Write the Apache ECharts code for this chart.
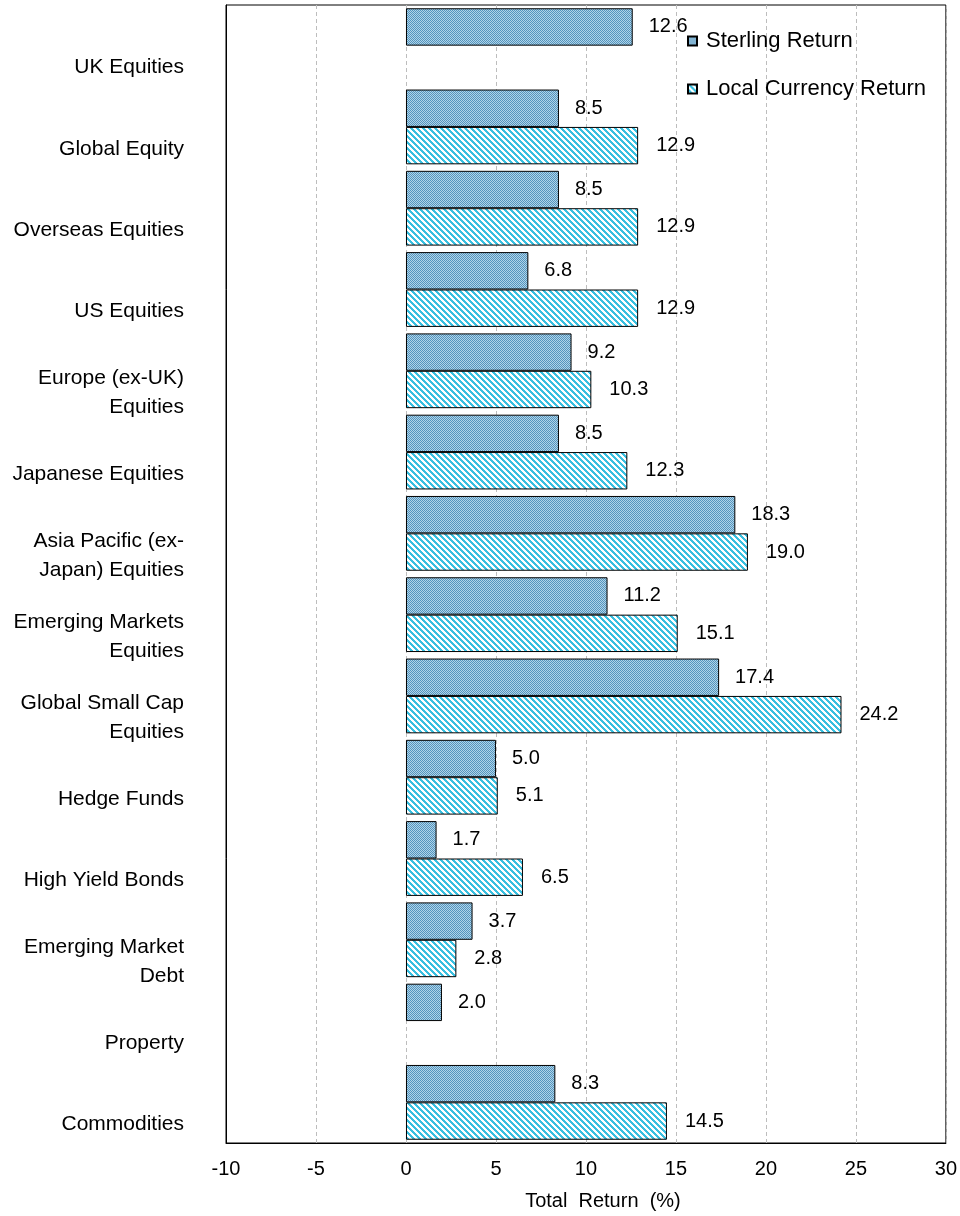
<!DOCTYPE html>
<html>
<head>
<meta charset="utf-8">
<style>
  html, body { margin: 0; padding: 0; background: #fff; }
  #chart { width: 960px; height: 1216px; }
</style>
<script src="https://cdn.jsdelivr.net/npm/echarts@6/dist/echarts.min.js"></script>
</head>
<body>
<div id="chart"></div>
<script>
// Asset classes, top to bottom
const categories = [
  'UK Equities',
  'Global Equity',
  'Overseas Equities',
  'US Equities',
  'Europe (ex-UK)\nEquities',
  'Japanese Equities',
  'Asia Pacific (ex-\nJapan) Equities',
  'Emerging Markets\nEquities',
  'Global Small Cap\nEquities',
  'Hedge Funds',
  'High Yield Bonds',
  'Emerging Market\nDebt',
  'Property',
  'Commodities'
];

// Total return (%) in sterling terms
const sterlingReturn = [12.6, 8.5, 8.5, 6.8, 9.2, 8.5, 18.3, 11.2, 17.4, 5.0, 1.7, 3.7, 2.0, 8.3];
// Total return (%) in local currency terms (none for UK equities and property)
const localReturn = [null, 12.9, 12.9, 12.9, 10.3, 12.3, 19.0, 15.1, 24.2, 5.1, 6.5, 2.8, null, 14.5];

const xTicks = { min: -10, max: 30, step: 5 };

// Fine checker fill for the sterling bars
function checkerPattern() {
  const c = document.createElement('canvas');
  c.width = 2; c.height = 2;
  const g = c.getContext('2d');
  g.fillStyle = '#5494be';
  g.fillRect(0, 0, 2, 2);
  g.fillStyle = '#b0d4e8';
  g.fillRect(1, 0, 1, 1);
  g.fillRect(0, 1, 1, 1);
  return c;
}

// Diagonal stripes (top-left to bottom-right) for the local currency bars
function stripePattern() {
  const n = 6;
  const c = document.createElement('canvas');
  c.width = n; c.height = n;
  const g = c.getContext('2d');
  g.fillStyle = '#ffffff';
  g.fillRect(0, 0, n, n);
  g.fillStyle = '#38bfe0';
  for (let y = 0; y < n; y++) {
    for (let x = 0; x < n; x++) {
      const d = ((x - y) % n + n) % n;
      if (d < 3) g.fillRect(x, y, 1, 1);
    }
  }
  return c;
}

const FONT = 'Liberation Sans, Arial, sans-serif';

const chart = echarts.init(document.getElementById('chart'), null, { renderer: 'canvas' });

const valueLabel = (dist) => ({
  show: true,
  position: 'right',
  distance: dist,
  color: '#000',
  fontFamily: FONT,
  fontSize: 20,
  formatter: (p) => (p.value == null ? '' : Number(p.value).toFixed(1))
});

chart.setOption({
  animation: false,
  backgroundColor: '#ffffff',
  textStyle: { fontFamily: FONT },
  grid: {
    left: 226, right: 14, top: 5, bottom: 72,
    show: true, borderColor: '#000', borderWidth: 1,
    containLabel: false
  },
  legend: {
    orient: 'vertical',
    left: 687,
    top: 30,
    padding: 0,
    itemWidth: 9,
    itemHeight: 9,
    itemGap: 26,
    icon: 'rect',
    textStyle: { fontFamily: FONT, fontSize: 22, color: '#000', padding: [0, 0, 0, 4] },
    data: ['Sterling Return', 'Local Currency Return']
  },
  xAxis: {
    type: 'value',
    min: xTicks.min,
    max: xTicks.max,
    interval: xTicks.step,
    name: 'Total  Return  (%)',
    nameLocation: 'middle',
    nameGap: 48,
    nameTextStyle: { fontFamily: FONT, fontSize: 20, color: '#000', padding: [0, 0, 0, 34] },
    axisLine: { show: true, lineStyle: { color: '#000', width: 1 } },
    axisTick: { show: false },
    axisLabel: { fontFamily: FONT, fontSize: 20, color: '#000', margin: 16 },
    splitLine: { show: true, lineStyle: { color: '#bdbdbd', type: [4, 3], width: 1 } }
  },
  yAxis: {
    type: 'category',
    inverse: true,
    data: categories,
    axisLine: { show: true, onZero: false, lineStyle: { color: '#000', width: 1 } },
    axisTick: { show: false },
    axisLabel: {
      fontFamily: FONT,
      fontSize: 21,
      color: '#000',
      align: 'right',
      margin: 42,
      lineHeight: 29,
      // a blank leading line nudges each label below its band centre
      formatter: (v) => '{gap| }\n' + v.split('\n').map((s) => '{t|' + s + '}').join('\n'),
      rich: {
        gap: { lineHeight: 44, fontSize: 21 },
        t: { lineHeight: 29, fontSize: 21, fontFamily: FONT, color: '#000' }
      }
    },
    splitLine: { show: false }
  },
  series: [
    {
      name: 'Sterling Return',
      type: 'bar',
      data: sterlingReturn,
      barCategoryGap: '8%',
      barGap: '0%',
      itemStyle: {
        color: { image: checkerPattern(), repeat: 'repeat' },
        borderColor: '#000',
        borderWidth: 1
      },
      label: valueLabel(16)
    },
    {
      name: 'Local Currency Return',
      type: 'bar',
      data: localReturn,
      barCategoryGap: '8%',
      barGap: '0%',
      itemStyle: {
        color: { image: stripePattern(), repeat: 'repeat' },
        borderColor: '#000',
        borderWidth: 1
      },
      label: valueLabel(18)
    }
  ]
});
</script>
</body>
</html>
